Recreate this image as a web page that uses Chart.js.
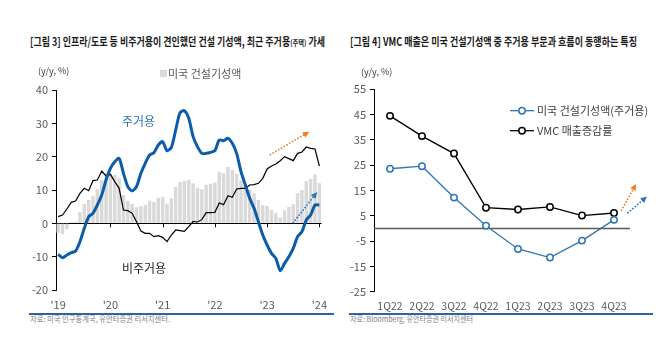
<!DOCTYPE html>
<html><head><meta charset="utf-8">
<script src="https://cdn.jsdelivr.net/npm/chart.js@4.4.1/dist/chart.umd.min.js"></script>
<style>
html,body{margin:0;padding:0;background:#fff}
body{width:663px;height:355px;position:relative;overflow:hidden;font-family:'Noto Sans CJK KR','Noto Sans',sans-serif}
.t{position:absolute;white-space:nowrap;line-height:1}
.title{font-size:11.5px;font-weight:700;color:#1a1a1a;transform-origin:0 50%}
.unit{font-size:9px;color:#404040}
.src{font-size:8px;color:#808080;transform-origin:0 50%}
.rule{position:absolute;height:1.5px;background:#2a63a8}
.cv{position:absolute;top:0}
.leg{font-size:11px;color:#595959}
</style>
</head><body>
<div class="t title" data-w="295" style="left:30px;top:36px">[그림 3] 인프라/도로 등 비주거용이 견인했던 건설 기성액, 최근 주거용<span style="font-size:8px">(주택)</span> 가세</div>
<div class="t title" data-w="287" style="left:350px;top:36px">[그림 4] VMC 매출은 미국 건설기성액 중 주거용 부문과 흐름이 동행하는 특징</div>

<canvas id="c1" class="cv" width="335" height="312" style="left:0"></canvas>
<canvas id="c2" class="cv" width="323" height="312" style="left:340px"></canvas>

<div class="t unit" style="left:38px;top:66px">(y/y, %)</div>
<div class="t unit" style="left:361px;top:67px">(y/y, %)</div>

<div style="position:absolute;left:160px;top:70px;width:7px;height:7px;background:#d9d9d9"></div>
<div class="t leg" style="left:168px;top:68px">미국 건설기성액</div>

<div class="t" style="left:122px;top:115px;font-size:12px;color:#2f75b5">주거용</div>
<div class="t" style="left:122px;top:262px;font-size:12px;color:#262626">비주거용</div>

<svg style="position:absolute;left:508px;top:104px" width="28" height="34">
  <line x1="2" y1="6.7" x2="26" y2="6.7" stroke="#2e75b6" stroke-width="1.3"/>
  <circle cx="14" cy="6.7" r="3.2" fill="#fff" stroke="#2e75b6" stroke-width="1.5"/>
  <line x1="2" y1="26.7" x2="26" y2="26.7" stroke="#000" stroke-width="1.3"/>
  <circle cx="14" cy="26.7" r="3.2" fill="#fff" stroke="#000" stroke-width="1.5"/>
</svg>
<div class="t leg" style="left:537px;top:105px;color:#404040">미국 건설기성액(주거용)</div>
<div class="t leg" style="left:537px;top:125px;color:#404040">VMC 매출증감률</div>

<div class="rule" style="left:29px;top:313px;width:305px"></div>
<div class="rule" style="left:349px;top:313px;width:304px"></div>
<div class="t src" data-w="140" style="left:30px;top:315px">자료: 미국 인구통계국, 유안타증권 리서치센터.</div>
<div class="t src" data-w="123" style="left:350px;top:315px">자료: Bloomberg, 유안타증권 리서치센터</div>

<script>
// ---------- Left chart data (monthly, y/y %) ----------
const months = [
 "19.01","19.02","19.03","19.04","19.05","19.06","19.07","19.08","19.09","19.10","19.11","19.12",
 "20.01","20.02","20.03","20.04","20.05","20.06","20.07","20.08","20.09","20.10","20.11","20.12",
 "21.01","21.02","21.03","21.04","21.05","21.06","21.07","21.08","21.09","21.10","21.11","21.12",
 "22.01","22.02","22.03","22.04","22.05","22.06","22.07","22.08","22.09","22.10","22.11","22.12",
 "23.01","23.02","23.03","23.04","23.05","23.06","23.07","23.08","23.09","23.10","23.11","23.12",
 "24.01"];
const totalConstruction = [
 -2.8,-3.3,-1.8,0.3,0.5,3.4,5.8,7.0,8.3,10.2,13.0,15.2,
 14.8,14.5,13.5,8.5,6.8,5.9,4.8,5.1,5.6,6.8,6.4,7.7,
 8.0,5.9,7.5,10.9,12.4,12.7,13.1,12.0,10.7,10.2,11.6,11.9,
 12.2,15.5,15.0,16.9,16.0,14.8,12.8,11.5,10.0,9.0,7.0,5.4,
 5.2,4.0,3.1,1.7,3.9,4.9,5.7,9.0,10.0,12.7,13.3,14.7,
 12.0];
const residential = [
 -9.3,-10.3,-9.5,-8.8,-8.3,-5.5,-1.5,2.0,3.0,5.5,8.5,13.0,
 16.5,18.5,19.5,15.0,11.0,9.7,11.0,15.0,18.0,20.5,21.2,23.5,
 24.5,21.8,22.8,28.0,33.2,33.8,31.5,26.0,23.0,21.0,21.0,21.3,
 21.8,25.0,24.8,25.5,24.0,21.0,15.5,11.5,7.5,4.5,0.5,-3.5,
 -6.5,-9.0,-10.5,-14.2,-12.0,-10.0,-7.5,-4.0,-2.5,1.0,2.5,5.5,
 5.5];
const nonResidential = [
 2.0,2.5,4.3,6.3,6.7,9.0,10.5,9.8,12.8,13.0,15.7,14.2,
 14.7,12.5,10.5,4.0,3.8,3.0,0.5,-2.3,-3.0,-3.0,-4.0,-3.7,
 -4.2,-5.5,-3.5,-2.0,-2.2,-2.4,-1.0,0.6,0.4,1.1,3.2,3.2,
 3.3,6.1,5.6,8.3,7.8,10.3,10.5,10.5,11.5,11.6,12.0,13.5,
 16.3,17.2,17.8,18.8,20.0,19.4,18.8,21.0,21.4,22.9,22.5,22.3,
 17.2];
const leftLegend = "미국 건설기성액";

// ---------- Right chart data (quarterly, y/y %) ----------
const quarters = ["1Q22","2Q22","3Q22","4Q22","1Q23","2Q23","3Q23","4Q23"];
const usResidential = [23.6, 24.6, 12.2, 1.1, -8.1, -11.5, -4.8, 3.4];
const vmcSales = [44.5, 36.5, 29.6, 8.2, 7.5, 8.5, 5.1, 6.1];

// annotation arrows in data space [index, value]
const leftArrows = [
  {from:[48.6,20.5], to:[57.7,27.5], color:'#f07b22'},
  {from:[53.9,0.0], to:[59.5,9.4], color:'#2e75b6'}
];
const rightArrows = [
  {from:[7.22,6.9], to:[7.69,17.6], color:'#f07b22'},
  {from:[7.42,6.0], to:[8.03,12.6], color:'#2e75b6'}
];

// fit text blocks to their measured widths in the reference
document.querySelectorAll('[data-w]').forEach(el=>{
  const w = el.getBoundingClientRect().width;
  el.style.transform = 'scaleX(' + (parseFloat(el.dataset.w)/w) + ')';
});

const FONT = "'Noto Sans CJK KR','Noto Sans',sans-serif";
Chart.defaults.font.family = FONT;
Chart.defaults.font.size = 11;
Chart.defaults.color = '#595959';

function drawArrow(ctx, x1, y1, x2, y2, color){
  ctx.save();
  ctx.strokeStyle = color; ctx.fillStyle = color;
  ctx.lineWidth = 1.6;
  ctx.setLineDash([1.6,1.6]);
  const ang = Math.atan2(y2-y1, x2-x1);
  const hl = 7;
  ctx.beginPath(); ctx.moveTo(x1,y1);
  ctx.lineTo(x2 - Math.cos(ang)*hl*0.8, y2 - Math.sin(ang)*hl*0.8); ctx.stroke();
  ctx.setLineDash([]);
  ctx.beginPath();
  ctx.moveTo(x2,y2);
  ctx.lineTo(x2 - hl*Math.cos(ang-0.45), y2 - hl*Math.sin(ang-0.45));
  ctx.lineTo(x2 - hl*Math.cos(ang+0.45), y2 - hl*Math.sin(ang+0.45));
  ctx.closePath(); ctx.fill();
  ctx.restore();
}

const leftPlugin = {
  id:'leftExtras',
  afterDraw(chart){
    const {ctx, scales:{x,y}} = chart;
    const y0 = y.getPixelForValue(0);
    ctx.save();
    ctx.strokeStyle = '#000'; ctx.lineWidth = 1;
    months.forEach((m,i)=>{
      if(i>0 && m.endsWith('.01')){
        const px = Math.round(x.getPixelForValue(i))+0.5;
        ctx.beginPath(); ctx.moveTo(px,y0); ctx.lineTo(px,y0+4); ctx.stroke();
      }
    });
    ctx.restore();
    leftArrows.forEach(a=>drawArrow(ctx, x.getPixelForValue(a.from[0]), y.getPixelForValue(a.from[1]),
      x.getPixelForValue(a.to[0]), y.getPixelForValue(a.to[1]), a.color));
  }
};

const rightPlugin = {
  id:'rightExtras',
  beforeDatasetsDraw(chart){
    const {ctx, chartArea:a, scales:{y}} = chart;
    const y0 = y.getPixelForValue(0);
    ctx.save(); ctx.strokeStyle = '#595959'; ctx.lineWidth = 1.5;
    ctx.beginPath(); ctx.moveTo(a.left,y0); ctx.lineTo(a.right,y0); ctx.stroke(); ctx.restore();
  },
  afterDraw(chart){
    const {ctx, scales:{x,y}} = chart;
    rightArrows.forEach(a=>drawArrow(ctx, x.getPixelForValue(a.from[0]), y.getPixelForValue(a.from[1]),
      x.getPixelForValue(a.to[0]), y.getPixelForValue(a.to[1]), a.color));
  }
};

function fitArea(chart, target){
  for(let k=0;k<3;k++){
    const a = chart.chartArea, p = chart.options.layout.padding;
    p.top += target.top - a.top;
    p.bottom += a.bottom - target.bottom;
    p.left += target.left - a.left;
    p.right += a.right - target.right;
    chart.update('none');
  }
}

const c1 = new Chart(document.getElementById('c1'), {
  type:'bar',
  data:{
    labels: months,
    datasets:[
      {type:'line', label:'주거용', data:residential, borderColor:'#0b5cab', borderWidth:3,
       pointRadius:0, tension:0.25, order:1, borderJoinStyle:'round'},
      {type:'line', label:'비주거용', data:nonResidential, borderColor:'#000', borderWidth:1.2,
       pointRadius:0, tension:0, order:2},
      {type:'bar', label:leftLegend, data:totalConstruction, backgroundColor:'#d9d9d9',
       barPercentage:0.8, categoryPercentage:1, order:3}
    ]
  },
  options:{
    responsive:false, animation:false, devicePixelRatio:1,
    layout:{padding:{top:80,left:0,right:10,bottom:0}},
    plugins:{legend:{display:false}, tooltip:{enabled:false}},
    scales:{
      x:{
        offset:true,
        grid:{display:false, drawTicks:false, tickLength:0}, border:{display:false},
        ticks:{autoSkip:false, maxRotation:0, padding:8, color:'#595959',
          callback(v){ const m = months[v]; return m.endsWith('.01') ? "'" + m.slice(0,2) : ''; }}
      },
      y:{
        min:-20, max:40,
        ticks:{stepSize:10, padding:4, color:'#595959'},
        grid:{drawOnChartArea:true, tickLength:4, tickColor:'#000',
          color:c=> c.tick && c.tick.value===0 ? '#000' : 'rgba(0,0,0,0)', lineWidth:1},
        border:{display:true, color:'#000', width:1}
      }
    }
  },
  plugins:[leftPlugin]
});
fitArea(c1, {left:56, top:90, right:325, bottom:290});

const c2 = new Chart(document.getElementById('c2'), {
  type:'line',
  data:{
    labels: quarters,
    datasets:[
      {label:'미국 건설기성액(주거용)', data:usResidential, borderColor:'#2e75b6', borderWidth:1.3,
       pointRadius:3.2, pointBorderWidth:1.5, pointBackgroundColor:'#fff', pointBorderColor:'#2e75b6', tension:0},
      {label:'VMC 매출증감률', data:vmcSales, borderColor:'#000', borderWidth:1.3,
       pointRadius:3.2, pointBorderWidth:1.5, pointBackgroundColor:'#fff', pointBorderColor:'#000', tension:0}
    ]
  },
  options:{
    responsive:false, animation:false, devicePixelRatio:1,
    layout:{padding:{top:80,left:0,right:30,bottom:0}},
    plugins:{legend:{display:false}, tooltip:{enabled:false}},
    scales:{
      x:{
        offset:true,
        grid:{display:false, drawTicks:false, tickLength:0}, border:{display:false},
        ticks:{maxRotation:0, autoSkip:false, padding:8, color:'#595959', font:{size:10.5}}
      },
      y:{
        min:-25, max:55,
        ticks:{stepSize:10, padding:4, color:'#595959'},
        grid:{drawOnChartArea:false, tickLength:4, tickColor:'#000'},
        border:{display:true, color:'#000', width:1}
      }
    }
  },
  plugins:[rightPlugin]
});
fitArea(c2, {left:34, top:89.3, right:290, bottom:291.7});
</script>
</body></html>
